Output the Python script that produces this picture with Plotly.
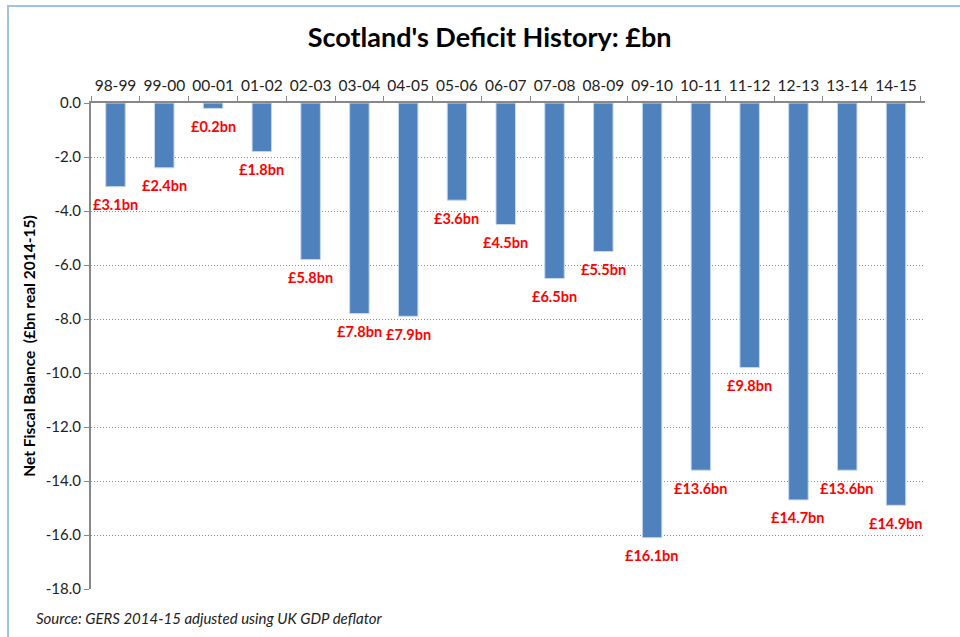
import plotly.graph_objects as go

years = ["98-99", "99-00", "00-01", "01-02", "02-03", "03-04", "04-05", "05-06", "06-07",
         "07-08", "08-09", "09-10", "10-11", "11-12", "12-13", "13-14", "14-15"]
balance = [-3.1, -2.4, -0.2, -1.8, -5.8, -7.8, -7.9, -3.6, -4.5,
           -6.5, -5.5, -16.1, -13.6, -9.8, -14.7, -13.6, -14.9]
labels = ["£3.1bn", "£2.4bn", "£0.2bn", "£1.8bn", "£5.8bn", "£7.8bn", "£7.9bn", "£3.6bn", "£4.5bn",
          "£6.5bn", "£5.5bn", "£16.1bn", "£13.6bn", "£9.8bn", "£14.7bn", "£13.6bn", "£14.9bn"]
y_ticks = [0, -2, -4, -6, -8, -10, -12, -14, -16, -18]
y_ticktext = ["0.0", "-2.0", "-4.0", "-6.0", "-8.0", "-10.0", "-12.0", "-14.0", "-16.0", "-18.0"]

FONT = "Lato"
W, H = 960, 637
ML, MR, MT, MB = 91, 35, 103, 48

fig = go.Figure()
fig.add_trace(go.Bar(
    x=years, y=balance,
    marker=dict(color="#4F81BD", line=dict(color="#C6D9F1", width=1)),
    hoverinfo="x+y",
))

for yr, v, t in zip(years, balance, labels):
    fig.add_annotation(x=yr, y=v, text=f"<b>{t}</b>", showarrow=False,
                       yshift=-18, font=dict(family=FONT, size=14.5, color="#FF0000"))

pw = W - ML - MR
ph = H - MT - MB
# chart frame (light blue border, left and top visible)
fig.add_shape(type="rect", xref="paper", yref="paper",
              x0=(8 - ML) / pw, x1=(W + 20 - ML) / pw,
              y0=-(H + 20 - MT - ph) / ph, y1=1 + (MT - 6) / ph,
              line=dict(color="#9DC3E6", width=2), layer="below")

fig.update_layout(
    width=W, height=H,
    margin=dict(l=ML, r=MR, t=MT, b=MB, autoexpand=False),
    paper_bgcolor="white", plot_bgcolor="white",
    bargap=0.6,
    showlegend=False,
    font=dict(family=FONT, size=14, color="#222"),
    title=dict(text="<b>Scotland's Deficit History: £bn</b>", x=0.51, xanchor="center",
               y=1 - 38 / H, yanchor="middle",
               font=dict(family=FONT, size=27, color="#000")),
    xaxis=dict(side="top", type="category", showline=True, linecolor="#888", linewidth=2,
               ticks="outside", tickson="boundaries", ticklen=5, tickcolor="#888",
               automargin=False, ticklabelstandoff=4, tickangle=0,
               showgrid=False, tickfont=dict(family=FONT, size=15.5, color="#222")),
    yaxis=dict(range=[-18, 0], tickvals=y_ticks, ticktext=y_ticktext,
               showline=True, linecolor="#888", linewidth=2, ticks="outside", ticklen=5,
               tickcolor="#888", zeroline=False, automargin=False,
               showgrid=True, gridcolor="#8c8c8c", griddash="1px,2px", gridwidth=1,
               tickfont=dict(family=FONT, size=15, color="#222"),
               title=dict(text="<b>Net Fiscal Balance  (£bn real 2014-15)</b>",
                          font=dict(family=FONT, size=15.5, color="#000"), standoff=6)),
)

fig.add_annotation(xref="paper", yref="paper", x=(34 - ML) / pw, y=-(618 - MT - ph) / ph,
                   xanchor="left", yanchor="middle", showarrow=False,
                   text="<i>Source: GERS 2014-15 adjusted using UK GDP deflator</i>",
                   font=dict(family=FONT, size=15, color="#222"))

fig.write_html("out.html", config={"displayModeBar": False},
               post_script="document.body.style.margin='0';")
